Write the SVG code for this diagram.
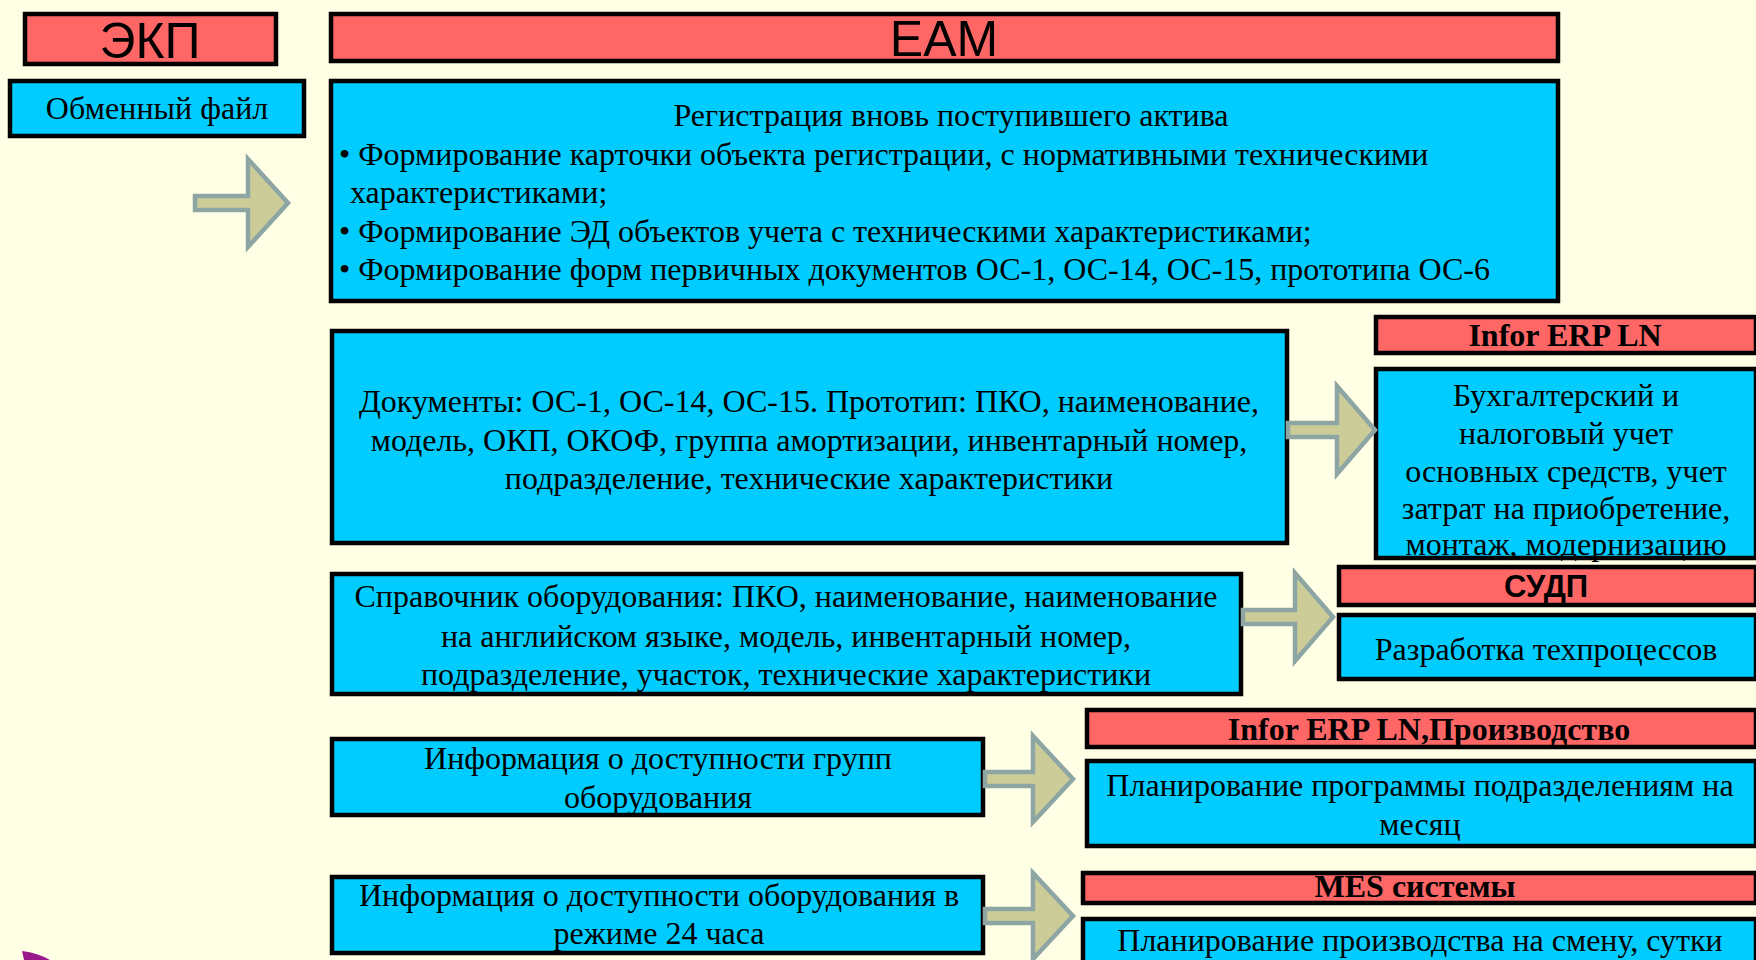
<svg xmlns="http://www.w3.org/2000/svg" width="1756" height="960" viewBox="0 0 1756 960">
<style>
.red{fill:#FF6666;stroke:#000;stroke-width:4.5}
.blue{fill:#00CCFF;stroke:#000;stroke-width:4.5}
.arr{fill:#CCCC99;stroke:#8EA6A3;stroke-width:4.5;stroke-linejoin:miter}
.t{font-family:"Liberation Serif","Times New Roman",serif;font-size:32px;fill:#000}
.c{text-anchor:middle}
.hb{font-family:"Liberation Serif","Times New Roman",serif;font-size:32px;font-weight:bold;fill:#000;text-anchor:middle}
.sa{font-family:"Liberation Sans",Arial,sans-serif;fill:#000;text-anchor:middle}
</style>
<rect width="1756" height="960" fill="#FFFFE6"/>
<path d="M22,951 Q38,953 50,960 L24,960 Z" fill="#99198C"/>

<g id="ekp">
<rect class="red" x="25" y="14" width="251" height="50"/>
<text class="sa" x="150" y="58" font-size="50">ЭКП</text>
</g>
<g id="eam">
<rect class="red" x="331" y="14" width="1227" height="47"/>
<text class="sa" x="944" y="56" font-size="50">EAM</text>
</g>
<g id="exchange-file">
<rect class="blue" x="10" y="81" width="294" height="55"/>
<text class="t c" x="157" y="119">Обменный файл</text>
</g>
<g id="registration">
<rect class="blue" x="331" y="81" width="1227" height="220"/>
<text class="t c" x="951" y="126">Регистрация вновь поступившего актива</text>
<text class="t" x="339" y="165">• Формирование карточки объекта регистрации, с нормативными техническими</text>
<text class="t" x="350" y="203">характеристиками;</text>
<text class="t" x="339" y="242">• Формирование ЭД объектов учета с техническими характеристиками;</text>
<text class="t" x="339" y="280">• Формирование форм первичных документов ОС-1, ОС-14, ОС-15, прототипа ОС-6</text>
</g>
<g id="documents">
<rect class="blue" x="332" y="331" width="955" height="212"/>
<text class="t c" x="809" y="412">Документы: ОС-1, ОС-14, ОС-15. Прототип: ПКО, наименование,</text>
<text class="t c" x="809" y="451">модель, ОКП, ОКОФ, группа амортизации, инвентарный номер,</text>
<text class="t c" x="809" y="489">подразделение, технические характеристики</text>
</g>
<g id="infor-erp-ln">
<rect class="red" x="1376" y="317" width="380" height="36"/>
<text class="hb" x="1565" y="346">Infor ERP LN</text>
</g>
<g id="accounting">
<rect class="blue" x="1376" y="369" width="380" height="189"/>
<text class="t c" x="1566" y="406">Бухгалтерский и</text>
<text class="t c" x="1566" y="444">налоговый учет</text>
<text class="t c" x="1566" y="482">основных средств, учет</text>
<text class="t c" x="1566" y="519">затрат на приобретение,</text>
<text class="t c" x="1566" y="555">монтаж, модернизацию</text>
</g>
<g id="equipment-directory">
<rect class="blue" x="332" y="574" width="909" height="120"/>
<text class="t c" x="786" y="607">Справочник оборудования: ПКО, наименование, наименование</text>
<text class="t c" x="786" y="647">на английском языке, модель, инвентарный номер,</text>
<text class="t c" x="786" y="685">подразделение, участок, технические характеристики</text>
</g>
<g id="sudp">
<rect class="red" x="1339" y="567" width="417" height="38"/>
<text class="sa" x="1546" y="597" font-size="31" font-weight="bold">СУДП</text>
</g>
<g id="process-development">
<rect class="blue" x="1339" y="615" width="417" height="64"/>
<text class="t c" x="1546" y="660">Разработка техпроцессов</text>
</g>
<g id="group-availability">
<rect class="blue" x="332" y="739" width="651" height="76"/>
<text class="t c" x="658" y="769">Информация о доступности групп</text>
<text class="t c" x="658" y="808">оборудования</text>
</g>
<g id="infor-production">
<rect class="red" x="1087" y="710" width="669" height="37"/>
<text class="hb" x="1429" y="740">Infor ERP LN,Производство</text>
</g>
<g id="monthly-planning">
<rect class="blue" x="1087" y="761" width="669" height="85"/>
<text class="t c" x="1420" y="796">Планирование программы подразделениям на</text>
<text class="t c" x="1420" y="835">месяц</text>
</g>
<g id="availability-24h">
<rect class="blue" x="332" y="877" width="651" height="76"/>
<text class="t c" x="659" y="906">Информация о доступности оборудования в</text>
<text class="t c" x="659" y="944">режиме 24 часа</text>
</g>
<g id="mes">
<rect class="red" x="1083" y="873" width="673" height="30"/>
<text class="hb" x="1415" y="897" font-size="26">MES системы</text>
</g>
<g id="shift-planning">
<rect class="blue" x="1083" y="919" width="673" height="60"/>
<text class="t c" x="1420" y="951">Планирование производства на смену, сутки</text>
</g>

<g id="connectors">
<path class="arr" d="M195,196 H248 V159 L288,203 L248,247 V210 H195 Z"/>
<path class="arr" d="M1288,423 H1337 V386 L1375,430 L1337,474 V437 H1288 Z"/>
<path class="arr" d="M1243,610 H1295 V573 L1333,617 L1295,661 V624 H1243 Z"/>
<path class="arr" d="M985,772 H1033 V736 L1073,779 L1033,822 V786 H985 Z"/>
<path class="arr" d="M985,909 H1033 V873 L1073,916 L1033,959 V923 H985 Z"/>
</g>
</svg>
